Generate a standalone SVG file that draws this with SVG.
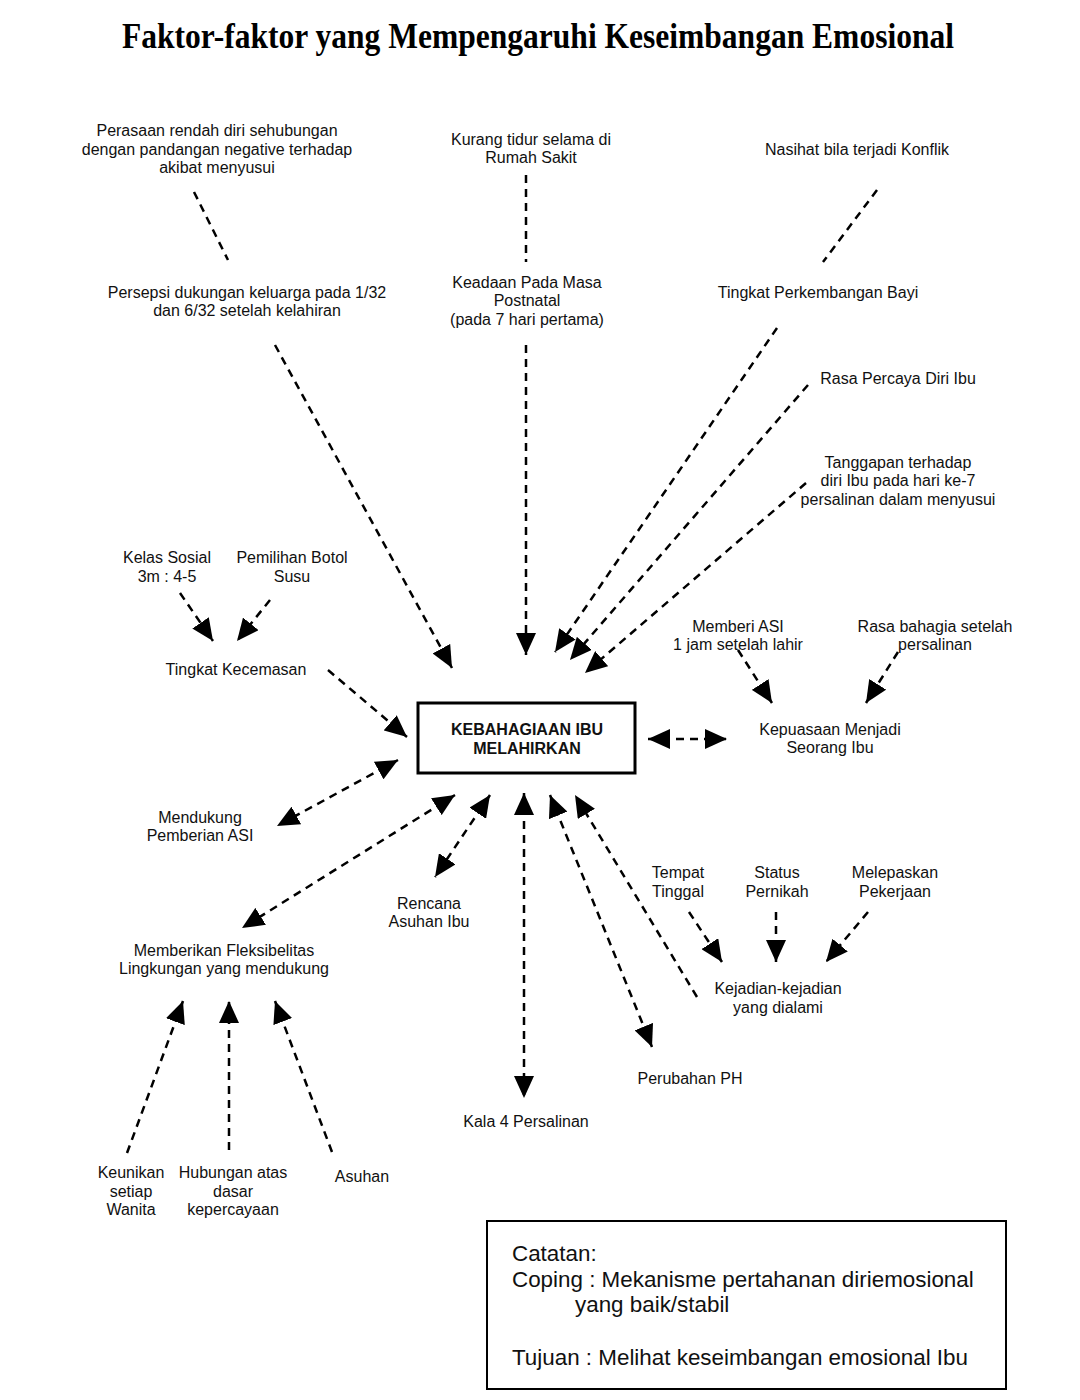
<svg xmlns="http://www.w3.org/2000/svg" width="1080" height="1400" viewBox="0 0 1080 1400">
<style>
.t{font-family:"Liberation Sans",Arial,sans-serif;font-size:16px;fill:#111;text-anchor:middle}
.b{font-family:"Liberation Sans",Arial,sans-serif;font-size:16px;font-weight:bold;fill:#111;text-anchor:middle}
.n{font-family:"Liberation Sans",Arial,sans-serif;font-size:22.4px;fill:#111}
.c{stroke:#000;stroke-width:2.5;stroke-dasharray:8 6;fill:none}
</style>
<defs>
<marker id="ah" viewBox="0 0 22 20" markerWidth="22" markerHeight="20" refX="22" refY="10" orient="auto-start-reverse" markerUnits="userSpaceOnUse">
<path d="M0,0 L22,10 L0,20 z" fill="#000"/>
</marker>
</defs>
<rect width="1080" height="1400" fill="#fff"/>
<text x="538" y="48" font-family="Liberation Serif,'Times New Roman',serif" font-size="36" font-weight="bold" text-anchor="middle" textLength="832" lengthAdjust="spacingAndGlyphs" fill="#000">Faktor-faktor yang Mempengaruhi Keseimbangan Emosional</text>

<g id="center">
<rect x="418" y="703" width="217" height="70" fill="#fff" stroke="#000" stroke-width="3"/>
<text class="b" x="527" y="735">KEBAHAGIAAN IBU</text>
<text class="b" x="527" y="754">MELAHIRKAN</text>
</g>

<g id="connectors">
<line class="c" x1="194" y1="192" x2="228" y2="260"/>
<line class="c" x1="275" y1="345" x2="452" y2="668" marker-end="url(#ah)"/>
<line class="c" x1="526" y1="175" x2="526" y2="262"/>
<line class="c" x1="526" y1="345" x2="526" y2="655" marker-end="url(#ah)"/>
<line class="c" x1="877" y1="190" x2="823" y2="262"/>
<line class="c" x1="777" y1="328" x2="555" y2="652" marker-end="url(#ah)"/>
<line class="c" x1="808" y1="385" x2="570" y2="660" marker-end="url(#ah)"/>
<line class="c" x1="806" y1="483" x2="585" y2="673" marker-end="url(#ah)"/>
<line class="c" x1="180" y1="593" x2="213" y2="641" marker-end="url(#ah)"/>
<line class="c" x1="270" y1="600" x2="237" y2="641" marker-end="url(#ah)"/>
<line class="c" x1="328" y1="670" x2="407" y2="737" marker-end="url(#ah)"/>
<line class="c" x1="398" y1="760" x2="277" y2="826" marker-start="url(#ah)" marker-end="url(#ah)"/>
<line class="c" x1="455" y1="795" x2="242" y2="928" marker-start="url(#ah)" marker-end="url(#ah)"/>
<line class="c" x1="490" y1="795" x2="435" y2="877" marker-start="url(#ah)" marker-end="url(#ah)"/>
<line class="c" x1="524" y1="793" x2="524" y2="1098" marker-start="url(#ah)" marker-end="url(#ah)"/>
<line class="c" x1="550" y1="795" x2="652" y2="1047" marker-start="url(#ah)" marker-end="url(#ah)"/>
<line class="c" x1="697" y1="997" x2="575" y2="795" marker-end="url(#ah)"/>
<line class="c" x1="689" y1="912" x2="722" y2="962" marker-end="url(#ah)"/>
<line class="c" x1="776" y1="912" x2="776" y2="962" marker-end="url(#ah)"/>
<line class="c" x1="868" y1="912" x2="826" y2="962" marker-end="url(#ah)"/>
<line class="c" x1="648" y1="739" x2="727" y2="739" marker-start="url(#ah)" marker-end="url(#ah)"/>
<line class="c" x1="738" y1="650" x2="772" y2="703" marker-end="url(#ah)"/>
<line class="c" x1="898" y1="652" x2="866" y2="703" marker-end="url(#ah)"/>
<line class="c" x1="127" y1="1153" x2="183" y2="1001" marker-end="url(#ah)"/>
<line class="c" x1="229" y1="1150" x2="229" y2="1001" marker-end="url(#ah)"/>
<line class="c" x1="332" y1="1152" x2="275" y2="1001" marker-end="url(#ah)"/>
</g>

<g id="perasaan"><text class="t" x="217" y="136">Perasaan rendah diri sehubungan</text><text class="t" x="217" y="155">dengan pandangan negative terhadap</text><text class="t" x="217" y="173">akibat menyusui</text></g>
<g id="persepsi"><text class="t" x="247" y="298">Persepsi dukungan keluarga pada 1/32</text><text class="t" x="247" y="316">dan 6/32 setelah kelahiran</text></g>
<g id="kurang-tidur"><text class="t" x="531" y="145">Kurang tidur selama di</text><text class="t" x="531" y="163">Rumah Sakit</text></g>
<g id="keadaan"><text class="t" x="527" y="288">Keadaan Pada Masa</text><text class="t" x="527" y="306">Postnatal</text><text class="t" x="527" y="325">(pada 7 hari pertama)</text></g>
<g id="nasihat"><text class="t" x="857" y="155">Nasihat bila terjadi Konflik</text></g>
<g id="perkembangan"><text class="t" x="818" y="298">Tingkat Perkembangan Bayi</text></g>
<g id="percaya"><text class="t" x="898" y="384">Rasa Percaya Diri Ibu</text></g>
<g id="tanggapan"><text class="t" x="898" y="468">Tanggapan terhadap</text><text class="t" x="898" y="486">diri Ibu pada hari ke-7</text><text class="t" x="898" y="505">persalinan dalam menyusui</text></g>
<g id="kelas"><text class="t" x="167" y="563">Kelas Sosial</text><text class="t" x="167" y="582">3m : 4-5</text></g>
<g id="botol"><text class="t" x="292" y="563">Pemilihan Botol</text><text class="t" x="292" y="582">Susu</text></g>
<g id="kecemasan"><text class="t" x="236" y="675">Tingkat Kecemasan</text></g>
<g id="mendukung"><text class="t" x="200" y="823">Mendukung</text><text class="t" x="200" y="841">Pemberian ASI</text></g>
<g id="fleksibel"><text class="t" x="224" y="956">Memberikan Fleksibelitas</text><text class="t" x="224" y="974">Lingkungan yang mendukung</text></g>
<g id="rencana"><text class="t" x="429" y="909">Rencana</text><text class="t" x="429" y="927">Asuhan Ibu</text></g>
<g id="kala4"><text class="t" x="526" y="1127">Kala 4 Persalinan</text></g>
<g id="ph"><text class="t" x="690" y="1084">Perubahan PH</text></g>
<g id="tempat"><text class="t" x="678" y="878">Tempat</text><text class="t" x="678" y="897">Tinggal</text></g>
<g id="status"><text class="t" x="777" y="878">Status</text><text class="t" x="777" y="897">Pernikah</text></g>
<g id="melepaskan"><text class="t" x="895" y="878">Melepaskan</text><text class="t" x="895" y="897">Pekerjaan</text></g>
<g id="kejadian"><text class="t" x="778" y="994">Kejadian-kejadian</text><text class="t" x="778" y="1013">yang dialami</text></g>
<g id="kepuasaan"><text class="t" x="830" y="735">Kepuasaan Menjadi</text><text class="t" x="830" y="753">Seorang Ibu</text></g>
<g id="memberi-asi"><text class="t" x="738" y="632">Memberi ASI</text><text class="t" x="738" y="650">1 jam setelah lahir</text></g>
<g id="bahagia"><text class="t" x="935" y="632">Rasa bahagia setelah</text><text class="t" x="935" y="650">persalinan</text></g>
<g id="keunikan"><text class="t" x="131" y="1178">Keunikan</text><text class="t" x="131" y="1197">setiap</text><text class="t" x="131" y="1215">Wanita</text></g>
<g id="hubungan"><text class="t" x="233" y="1178">Hubungan atas</text><text class="t" x="233" y="1197">dasar</text><text class="t" x="233" y="1215">kepercayaan</text></g>
<g id="asuhan"><text class="t" x="362" y="1182">Asuhan</text></g>

<g id="catatan">
<rect x="487" y="1221" width="519" height="168" fill="#fff" stroke="#000" stroke-width="2"/>
<text class="n" x="512" y="1261">Catatan:</text>
<text class="n" x="512" y="1287">Coping : Mekanisme pertahanan diriemosional</text>
<text class="n" x="575" y="1312">yang baik/stabil</text>
<text class="n" x="512" y="1365">Tujuan : Melihat keseimbangan emosional Ibu</text>
</g>
</svg>
